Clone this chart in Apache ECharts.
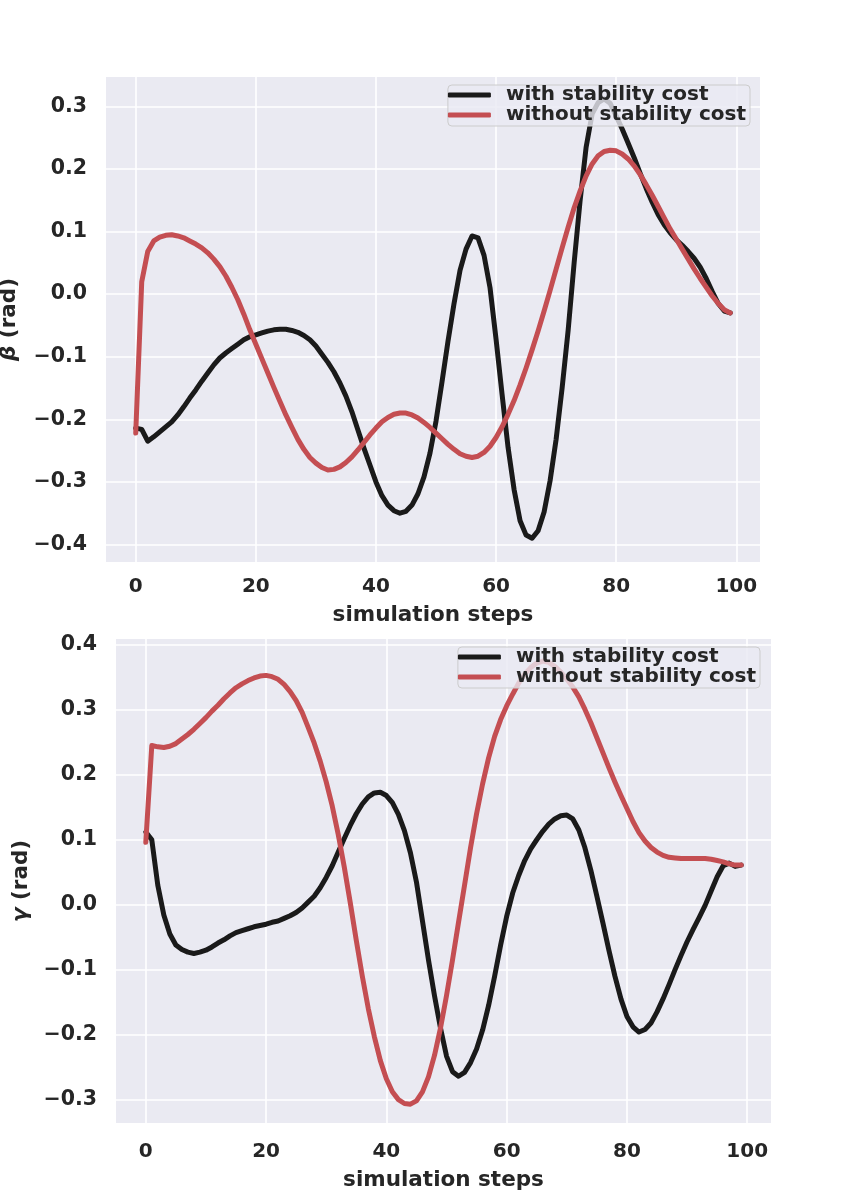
<!DOCTYPE html>
<title>beta gamma</title>
<style>
body {margin: 0; background: #fff;}
#echart {height: 1196px; width: 855px;}
</style>
<div id='echart'></div>
<script src='https://cdn.jsdelivr.net/npm/echarts@6/dist/echarts.min.js'></script>
<script>
let names = ['with stability cost', 'without stability cost']
let x_ticks = [0, 20, 40, 60, 80, 100]
let beta_ticks = [-0.4, -0.3, -0.2, -0.1, 0.0, 0.1, 0.2, 0.3]
let gamma_ticks = [-0.3, -0.2, -0.1, 0.0, 0.1, 0.2, 0.3, 0.4]

// beta, with stability cost (steps 0..99)
let beta_with = [
	-0.214, -0.216, -0.235, -0.228, -0.220, -0.212, -0.204, -0.193, -0.180, -0.166,
	-0.153, -0.139, -0.126, -0.113, -0.102, -0.094, -0.087, -0.080, -0.073, -0.068,
	-0.065, -0.062, -0.059, -0.057, -0.056, -0.056, -0.058, -0.061, -0.066, -0.073,
	-0.083, -0.096, -0.109, -0.124, -0.142, -0.163, -0.188, -0.217, -0.246, -0.273,
	-0.300, -0.322, -0.337, -0.346, -0.350, -0.347, -0.337, -0.319, -0.292, -0.254,
	-0.203, -0.140, -0.075, -0.015, 0.038, 0.072, 0.093, 0.090, 0.062, 0.010,
	-0.072, -0.160, -0.245, -0.312, -0.362, -0.385, -0.390, -0.378, -0.348, -0.298,
	-0.232, -0.150, -0.058, 0.050, 0.150, 0.235, 0.288, 0.306, 0.312, 0.305,
	0.285, 0.264, 0.241, 0.218, 0.193, 0.169, 0.147, 0.127, 0.111, 0.098,
	0.087, 0.078, 0.068, 0.057, 0.043, 0.025, 0.004, -0.015, -0.027, -0.030,
]
// beta, without stability cost
let beta_without = [
	-0.222, 0.020, 0.068, 0.085, 0.091, 0.094, 0.095, 0.093, 0.090, 0.085,
	0.080, 0.074, 0.066, 0.056, 0.044, 0.029, 0.011, -0.009, -0.032, -0.057,
	-0.080, -0.103, -0.126, -0.149, -0.171, -0.193, -0.213, -0.232, -0.248, -0.261,
	-0.270, -0.277, -0.281, -0.280, -0.276, -0.269, -0.260, -0.249, -0.237, -0.225,
	-0.214, -0.204, -0.197, -0.192, -0.190, -0.190, -0.193, -0.198, -0.205, -0.213,
	-0.222, -0.231, -0.240, -0.248, -0.255, -0.259, -0.261, -0.259, -0.253, -0.243,
	-0.229, -0.212, -0.192, -0.170, -0.145, -0.118, -0.089, -0.059, -0.027, 0.006,
	0.040, 0.074, 0.107, 0.138, 0.165, 0.189, 0.208, 0.221, 0.228, 0.230,
	0.229, 0.224, 0.216, 0.205, 0.191, 0.175, 0.158, 0.140, 0.122, 0.104,
	0.088, 0.072, 0.056, 0.040, 0.025, 0.011, -0.003, -0.015, -0.025, -0.030,
]
// gamma, with stability cost
let gamma_with = [
	0.112, 0.100, 0.030, -0.016, -0.045, -0.062, -0.069, -0.073, -0.075, -0.073,
	-0.070, -0.065, -0.059, -0.054, -0.048, -0.043, -0.040, -0.037, -0.034, -0.032,
	-0.030, -0.027, -0.025, -0.021, -0.017, -0.012, -0.005, 0.004, 0.013, 0.026,
	0.042, 0.060, 0.081, 0.102, 0.122, 0.140, 0.155, 0.166, 0.172, 0.173,
	0.168, 0.157, 0.139, 0.114, 0.080, 0.035, -0.025, -0.085, -0.140, -0.190,
	-0.233, -0.257, -0.264, -0.258, -0.243, -0.222, -0.193, -0.155, -0.110, -0.062,
	-0.018, 0.018, 0.045, 0.068, 0.086, 0.100, 0.113, 0.124, 0.132, 0.137,
	0.138, 0.132, 0.115, 0.088, 0.053, 0.013, -0.028, -0.070, -0.110, -0.145,
	-0.172, -0.188, -0.196, -0.192, -0.182, -0.165, -0.145, -0.123, -0.100, -0.078,
	-0.057, -0.038, -0.020, -0.001, 0.021, 0.043, 0.060, 0.064, 0.059, 0.061,
]
// gamma, without stability cost
let gamma_without = [
	0.096, 0.245, 0.243, 0.242, 0.244, 0.248, 0.255, 0.262, 0.270, 0.279,
	0.288, 0.298, 0.307, 0.317, 0.326, 0.334, 0.340, 0.345, 0.349, 0.352,
	0.353, 0.351, 0.347, 0.339, 0.328, 0.314, 0.296, 0.273, 0.249, 0.221,
	0.189, 0.152, 0.108, 0.058, 0.003, -0.055, -0.110, -0.160, -0.203, -0.240,
	-0.268, -0.288, -0.300, -0.306, -0.307, -0.302, -0.288, -0.265, -0.232, -0.190,
	-0.140, -0.085, -0.027, 0.030, 0.088, 0.140, 0.186, 0.226, 0.259, 0.285,
	0.306, 0.324, 0.341, 0.355, 0.365, 0.372, 0.375, 0.373, 0.367, 0.358,
	0.347, 0.335, 0.320, 0.301, 0.280, 0.257, 0.234, 0.211, 0.189, 0.168,
	0.148, 0.128, 0.111, 0.098, 0.088, 0.081, 0.076, 0.073, 0.072, 0.071,
	0.071, 0.071, 0.071, 0.071, 0.070, 0.068, 0.066, 0.063, 0.061, 0.061,
]

let pairs = values => values.map((v, i) => [i, v])
let font = 'DejaVu Sans'
let ink = '#262626'

function x_axis(index, gap, label_margin) {
	return {
		type: 'value', gridIndex: index, min: -4.95, max: 103.95,
		name: 'simulation steps', nameLocation: 'middle', nameGap: gap,
		nameTextStyle: {fontFamily: font, fontWeight: 'bold', fontSize: 21.5, color: ink},
		axisLine: {show: false},
		axisTick: {show: false, customValues: x_ticks},
		axisLabel: {customValues: x_ticks, margin: label_margin, fontFamily: font, fontWeight: 'bold', fontSize: 20, color: ink},
		splitLine: {show: true, lineStyle: {color: '#ffffff', width: 1.6}},
	}
}
function y_axis(index, min, max, ticks, label, gap) {
	return {
		type: 'value', gridIndex: index, min: min, max: max,
		name: label, nameLocation: 'middle', nameGap: gap,
		nameTextStyle: {fontFamily: font, fontWeight: 'bold', fontSize: 21.5, color: ink,
			rich: {g: {fontFamily: font, fontWeight: 'bold', fontStyle: 'italic', fontSize: 21.5, color: ink}}},
		axisLine: {show: false},
		axisTick: {show: false, customValues: ticks},
		axisLabel: {customValues: ticks, margin: 19, fontFamily: font, fontWeight: 'bold', fontSize: 20.5, color: ink,
			formatter: v => v.toFixed(1).replace('-', '\u2212')},
		splitLine: {show: true, lineStyle: {color: '#ffffff', width: 1.6}},
	}
}
function legend(top, right) {
	return {
		data: names, orient: 'vertical', top: top, right: right,
		icon: 'roundRect', itemWidth: 43, itemHeight: 5, itemGap: 0,
		backgroundColor: 'rgba(234,234,242,0.8)', borderColor: '#cccccc', borderWidth: 1, borderRadius: 4,
		padding: [0, 4, 1, 0],
		textStyle: {fontFamily: font, fontWeight: 'bold', fontSize: 20, color: ink, lineHeight: 20, padding: [0, 0, 0, 10]},
	}
}
function line(name, values, index, color) {
	return {
		type: 'line', name: name, data: pairs(values), xAxisIndex: index, yAxisIndex: index,
		symbol: 'none', color: color, lineStyle: {width: 5, color: color, cap: 'round', join: 'round'},
	}
}

let echart = echarts.init(document.querySelector('#echart'))
let option = {
	animation: false,
	grid: [
		{left: 106, top: 77, width: 654, height: 485, outerBoundsMode: 'none', show: true, backgroundColor: '#eaeaf2', borderWidth: 0},
		{left: 116, top: 639, width: 655, height: 484, outerBoundsMode: 'none', show: true, backgroundColor: '#eaeaf2', borderWidth: 0},
	],
	xAxis: [x_axis(0, 42, 15), x_axis(1, 46, 19)],
	yAxis: [
		y_axis(0, -0.428, 0.347, beta_ticks, '{g|β} (rad)', 86),
		y_axis(1, -0.336, 0.409, gamma_ticks, '{g|γ} (rad)', 84),
	],
	legend: [legend(85, 105), legend(647, 95)],
	series: [
		line(names[0], beta_with, 0, '#1a1a1a'),
		line(names[1], beta_without, 0, '#c44e52'),
		line(names[0], gamma_with, 1, '#1a1a1a'),
		line(names[1], gamma_without, 1, '#c44e52'),
	],
}
echart.setOption(option)
</script>
